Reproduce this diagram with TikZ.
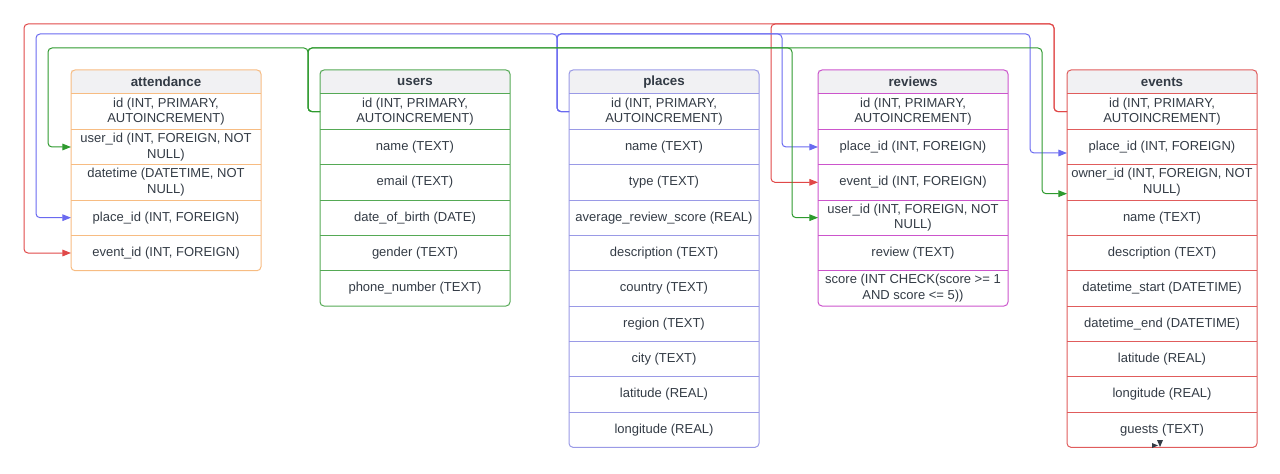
\documentclass[tikz,border=0pt]{standalone}
\usepackage{fontspec}
\setmainfont{Liberation Sans}
\usetikzlibrary{positioning,arrows.meta}

\definecolor{textC}{HTML}{333B45}
\definecolor{headC}{HTML}{F1F1F3}
\definecolor{attC}{HTML}{F7BC82}
\definecolor{usC}{HTML}{55A955}
\definecolor{plC}{HTML}{9A9AE6}
\definecolor{revC}{HTML}{CC55CC}
\definecolor{evC}{HTML}{E05C5C}
\definecolor{redC}{HTML}{E04848}
\definecolor{blueC}{HTML}{6A6AF0}
\definecolor{greenC}{HTML}{2E9A2E}

\tikzset{
  tblhead/.style={anchor=north west, fill=headC, minimum width=142.5pt, minimum height=18pt, inner sep=0pt, outer sep=0pt, font=\bfseries},
  tblrow/.style={below=0pt of #1, minimum width=142.5pt, minimum height=26.5pt, inner sep=0pt, outer sep=0pt, align=center},
  fk/.style={rounded corners=3pt, -{Triangle[length=6.5pt,width=5pt]}},
}

\begin{document}
\begin{tikzpicture}[x=0.75pt, y=-0.75pt, line width=0.75pt, text=textC,
  font=\fontsize{9.75}{11.8}\selectfont]
\useasboundingbox (0,0) rectangle (1280,474);

% attendance
\node[tblhead] (att-0) at (71,70) {attendance};
\foreach \t [count=\i, remember=\i as \j (initially 0)] in {{id (INT, PRIMARY,\\AUTOINCREMENT)}, {user\_id (INT, FOREIGN, NOT\\NULL)}, {datetime (DATETIME, NOT\\NULL)}, {place\_id (INT, FOREIGN)}, {event\_id (INT, FOREIGN)}}
  \node[tblrow=att-\j] (att-\i) {\t};
\foreach \i in {1,...,5} \draw[attC] (att-\i.north west) -- (att-\i.north east);
\draw[attC, rounded corners=3pt] (att-0.north west) rectangle (att-5.south east);

% users
\node[tblhead] (us-0) at (320,70) {users};
\foreach \t [count=\i, remember=\i as \j (initially 0)] in {{id (INT, PRIMARY,\\AUTOINCREMENT)}, {name (TEXT)}, {email (TEXT)}, {date\_of\_birth (DATE)}, {gender (TEXT)}, {phone\_number (TEXT)}}
  \node[tblrow=us-\j] (us-\i) {\t};
\foreach \i in {1,...,6} \draw[usC] (us-\i.north west) -- (us-\i.north east);
\draw[usC, rounded corners=3pt] (us-0.north west) rectangle (us-6.south east);

% places
\node[tblhead] (pl-0) at (569,70) {places};
\foreach \t [count=\i, remember=\i as \j (initially 0)] in {{id (INT, PRIMARY,\\AUTOINCREMENT)}, {name (TEXT)}, {type (TEXT)}, {average\_review\_score (REAL)}, {description (TEXT)}, {country (TEXT)}, {region (TEXT)}, {city (TEXT)}, {latitude (REAL)}, {longitude (REAL)}}
  \node[tblrow=pl-\j] (pl-\i) {\t};
\foreach \i in {1,...,10} \draw[plC] (pl-\i.north west) -- (pl-\i.north east);
\draw[plC, rounded corners=3pt] (pl-0.north west) rectangle (pl-10.south east);

% reviews
\node[tblhead] (rev-0) at (818,70) {reviews};
\foreach \t [count=\i, remember=\i as \j (initially 0)] in {{id (INT, PRIMARY,\\AUTOINCREMENT)}, {place\_id (INT, FOREIGN)}, {event\_id (INT, FOREIGN)}, {user\_id (INT, FOREIGN, NOT\\NULL)}, {review (TEXT)}, {score (INT CHECK(score >= 1\\AND score <= 5))}}
  \node[tblrow=rev-\j] (rev-\i) {\t};
\foreach \i in {1,...,6} \draw[revC] (rev-\i.north west) -- (rev-\i.north east);
\draw[revC, rounded corners=3pt] (rev-0.north west) rectangle (rev-6.south east);

% events
\node[tblhead] (ev-0) at (1067,70) {events};
\foreach \t [count=\i, remember=\i as \j (initially 0)] in {{id (INT, PRIMARY,\\AUTOINCREMENT)}, {place\_id (INT, FOREIGN)}, {owner\_id (INT, FOREIGN, NOT\\NULL)}, {name (TEXT)}, {description (TEXT)}, {datetime\_start (DATETIME)}, {datetime\_end (DATETIME)}, {latitude (REAL)}, {longitude (REAL)}, {guests (TEXT)}}
  \node[tblrow=ev-\j] (ev-\i) {\t};
\foreach \i in {1,...,10} \draw[evC] (ev-\i.north west) -- (ev-\i.north east);
\draw[evC, rounded corners=3pt] (ev-0.north west) rectangle (ev-10.south east);
\fill[textC] (1152,443) -- (1158,445.5) -- (1152,448) -- cycle;
\fill[textC] (1157,440) -- (1163,440) -- (1160,447) -- cycle;

% foreign keys
\draw[fk, redC] (ev-1.west) -- ++(-13,0) |- (24,24) |- (att-5.west);
\draw[fk, redC] (ev-1.west) -- ++(-13,0) |- (771,24) |- (rev-3.west);
\draw[fk, blueC] (pl-1.west) -- ++(-12,0) |- (36,34) |- (att-4.west);
\draw[fk, blueC] (pl-1.west) -- ++(-12,0) |- (782,34) |- (rev-2.west);
\draw[fk, blueC] (pl-1.west) -- ++(-12,0) |- (1030,34) |- ([yshift=-4.5pt]ev-2.west);
\draw[fk, greenC] (us-1.west) -- ++(-12,0) |- (48,48) |- (att-2.west);
\draw[fk, greenC] (us-1.west) -- ++(-12,0) |- (792,48) |- (rev-4.west);
\draw[fk, greenC] (us-1.west) -- ++(-12,0) |- (1042,48) |- ([yshift=-8.5pt]ev-3.west);
\end{tikzpicture}
\end{document}
